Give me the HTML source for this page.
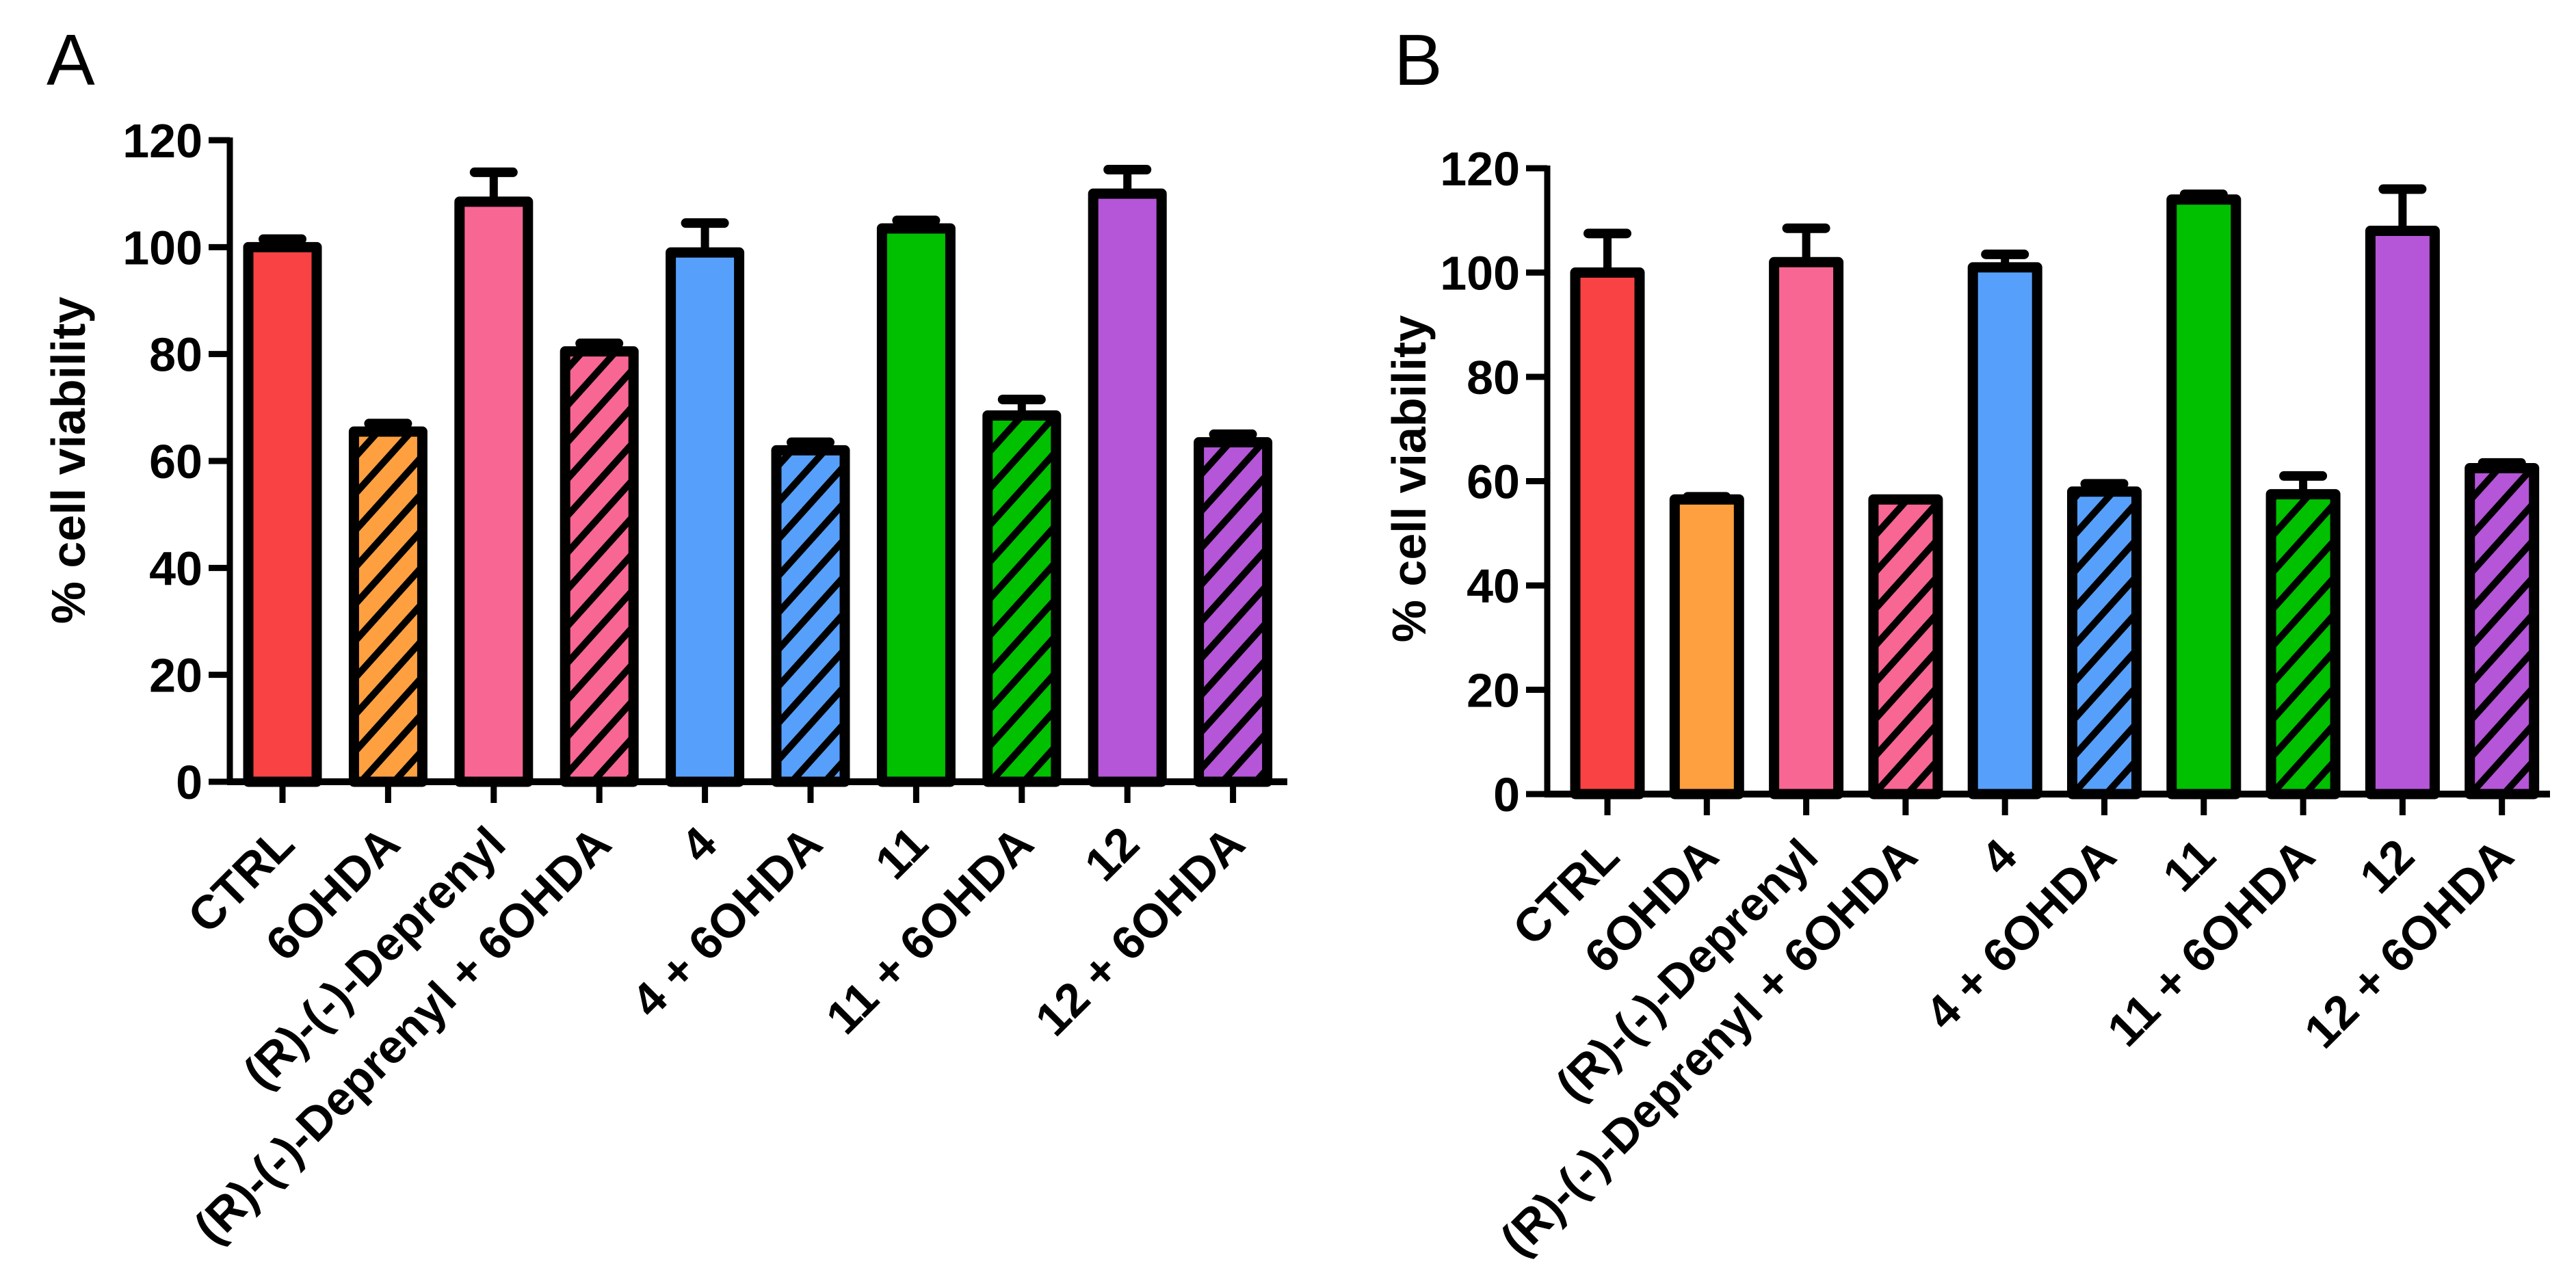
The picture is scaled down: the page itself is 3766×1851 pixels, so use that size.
<!DOCTYPE html>
<html><head><meta charset="utf-8"><style>
html,body{margin:0;padding:0;background:#fff;}
svg{display:block;font-family:"Liberation Sans",Arial,sans-serif;}
</style></head><body>
<svg id="chart" width="3766" height="1851" viewBox="0 0 3766 1851" xmlns="http://www.w3.org/2000/svg">
<defs id="defs"></defs>
</svg>
<script>
const categories = ["CTRL","6OHDA","(R)-(-)-Deprenyl","(R)-(-)-Deprenyl + 6OHDA","4","4 + 6OHDA","11","11 + 6OHDA","12","12 + 6OHDA"];
const valuesA = [100,65.5,108.5,80.5,99,62,103.5,68.5,110,63.5];
const errorsA = [1.5,1.5,5.5,1.5,5.5,1.5,1.5,3,4.5,1.5];
const valuesB = [100,56.5,102,56.5,101,58,114,57.5,108,62.5];
const errorsB = [7.5,0.5,6.5,0,2.5,1.5,1,3.5,8,1];
const colors = ["#f94244","#ffa040","#f86694","#56a0fc","#00c000","#b555d8"];
const colorIdx = [0,1,2,2,3,3,4,4,5,5];
const hatchedA = [false,true,false,true,false,true,false,true,false,true];
const hatchedB = [false,false,false,true,false,true,false,true,false,true];
const yTicks = [0,20,40,60,80,100,120];

const NS="http://www.w3.org/2000/svg";
const svg=document.getElementById('chart');
const defs=document.getElementById('defs');
function mk(tag,attrs,parent){const e=document.createElementNS(NS,tag);for(const k in attrs)e.setAttribute(k,attrs[k]);(parent||svg).appendChild(e);return e;}

colors.forEach((c,i)=>{
  const p=mk('pattern',{id:'hatch'+i,patternUnits:'userSpaceOnUse',width:36,height:36,patternTransform:'rotate(42)'},defs);
  mk('rect',{x:0,y:0,width:36,height:36,fill:c},p);
  mk('rect',{x:0,y:0,width:10,height:36,fill:'#000'},p);
});

function panel(cfg){
  const g=mk('g',{});
  
  
  const yScale=v=>cfg.y0-(cfg.y0-cfg.y120)*v/120;
  const xScale=i=>cfg.x0+i*cfg.step;
  const letter=mk('text',{x:cfg.lx,y:cfg.ly,'font-size':106,fill:'#000'},g);
  letter.textContent=cfg.letter;
  
  
  const t=mk('text',{transform:`translate(${cfg.tx},${cfg.ty}) rotate(-90)`,'text-anchor':'middle','font-size':70,'font-weight':'bold',fill:'#000'},g);
  t.textContent='% cell viability';
  
  
  yTicks.forEach(v=>{
    const y=yScale(v);
    const tk=mk('line',{x1:cfg.ax-31,x2:cfg.ax,y1:y,y2:y,stroke:'#000','stroke-width':9},g);
    
    
    const lb=mk('text',{x:cfg.ax-40,y:y+25,'text-anchor':'end','font-size':70,'font-weight':'bold',fill:'#000'},g);
    lb.textContent=v;
    
    
  });
  cfg.values.forEach((v,i)=>{
    const cx=xScale(i), top=yScale(v), eTop=yScale(v+cfg.errors[i]);
    const ci=colorIdx[i];
    if(cfg.errors[i]>0){
      const el=mk('line',{x1:cx,x2:cx,y1:top,y2:eTop,stroke:'#000','stroke-width':12},g);
      
      
      const cap=mk('line',{x1:cx-28,x2:cx+28,y1:eTop,y2:eTop,stroke:'#000','stroke-width':14,'stroke-linecap':'round'},g);
      
      
    }
    const w=cfg.bw;
    const r=mk('rect',{x:cx-w/2,y:top,width:w,height:cfg.y0-top,fill:cfg.hatched[i]?`url(#hatch${ci})`:colors[ci],stroke:'#000','stroke-width':15,'stroke-linejoin':'round'},g);
    
    
    const bt=mk('line',{x1:cx,x2:cx,y1:cfg.y0,y2:cfg.y0+31,stroke:'#000','stroke-width':9},g);
    
    
    const lb=mk('text',{transform:`translate(${cx+21},${cfg.y0+95}) rotate(-45)`,'text-anchor':'end','font-size':69,'font-weight':'bold',fill:'#000'},g);
    lb.textContent=categories[i];
    
    
  });
  const ya=mk('line',{x1:cfg.ax,x2:cfg.ax,y1:cfg.y120-4,y2:cfg.y0+4,stroke:'#000','stroke-width':9},g);
  
  
  const xa=mk('line',{x1:cfg.ax-4,x2:cfg.axEnd,y1:cfg.y0,y2:cfg.y0,stroke:'#000','stroke-width':10},g);
  
  
}

panel({name:'panel-a',letter:'A',lx:68,ly:124,tx:124,ty:673,values:valuesA,errors:errorsA,hatched:hatchedA,
  y0:1143,y120:205,x0:413,step:154.4,ax:336,axEnd:1882,bw:100});
panel({name:'panel-b',letter:'B',lx:2038,ly:124,tx:2084,ty:700,values:valuesB,errors:errorsB,hatched:hatchedB,
  y0:1161,y120:246,x0:2350,step:145.3,ax:2262,axEnd:3728,bw:94});
</script>
</body></html>
